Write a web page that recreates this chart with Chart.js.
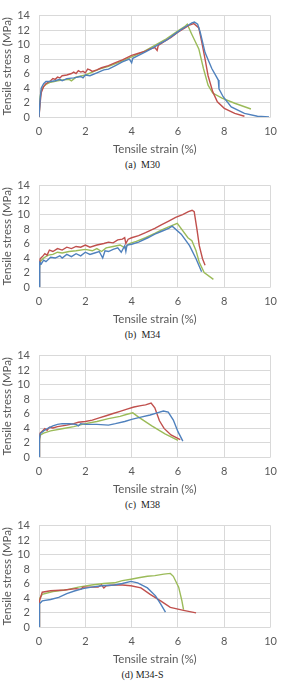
<!DOCTYPE html>
<html>
<head>
<meta charset="utf-8">
<script src="https://cdn.jsdelivr.net/npm/chart.js@4/dist/chart.umd.min.js"></script>
<style>
  html, body { margin: 0; padding: 0; background: #fff; }
  body { width: 285px; height: 681px; position: relative; overflow: hidden; }
  .panel { position: absolute; left: 0; width: 285px; height: 170px; }
  .panel canvas { position: absolute; left: 0; top: 0; }
  .cap { position: absolute; left: 0; width: 285px; text-align: center; top: 159px;
         font-family: "Liberation Serif", "DejaVu Serif", serif; font-size: 10px; font-weight: normal; color: #222; line-height: 12px; }
</style>
</head>
<body>
<script>
// ---------- data (strain %, stress MPa) ----------
const xTicks = [0, 2, 4, 6, 8, 10];
const yTicks = [0, 2, 4, 6, 8, 10, 12, 14];
const captions = ["(a)\u00a0\u00a0M30", "(b)\u00a0\u00a0M34", "(c)\u00a0\u00a0M38", "(d)\u00a0M34-S"];
const xTitle = "Tensile strain (%)";
const yTitle = "Tensile stress (MPa)";

const m30Blue = [[0,0],[0.05,2.5],[0.1,4.0],[0.2,4.6],[0.3,4.9],[0.5,4.9],[0.7,5.0],[0.9,5.2],[1.0,5.0],[1.2,5.3],[1.5,5.4],[1.8,5.6],[1.9,5.4],[2.0,5.8],[2.2,5.7],[2.5,6.1],[2.8,6.5],[3.0,6.6],[3.3,7.1],[3.6,7.6],[3.9,8.0],[4.0,7.5],[4.05,8.1],[4.3,8.5],[4.6,9.0],[4.9,9.5],[5.2,10.1],[5.5,10.6],[5.8,11.3],[6.1,12.0],[6.4,12.6],[6.6,13.0],[6.71,13.1],[6.85,12.8],[6.96,11.7],[7.17,8.9],[7.46,6.7],[7.67,5.5],[7.74,5.1],[7.77,3.9],[7.95,2.8],[8.3,1.4],[8.87,0.5],[9.43,0.1],[9.93,0]];
const m30Red = [[0,0],[0.05,2.0],[0.1,3.4],[0.2,4.2],[0.3,4.6],[0.4,4.8],[0.5,5.0],[0.6,5.3],[0.7,5.2],[0.8,5.5],[0.9,5.4],[1.0,5.7],[1.2,5.8],[1.4,6.0],[1.5,6.2],[1.6,6.0],[1.7,6.4],[1.8,6.2],[1.9,6.3],[2.0,6.1],[2.1,6.6],[2.2,6.5],[2.3,6.3],[2.5,6.5],[2.7,6.8],[3.0,7.1],[3.3,7.5],[3.6,7.9],[4.0,8.5],[4.3,8.8],[4.6,9.1],[4.8,9.4],[5.0,9.6],[5.1,9.2],[5.15,9.9],[5.4,10.4],[5.7,11.0],[6.0,11.7],[6.3,12.3],[6.5,12.7],[6.68,12.9],[6.9,12.3],[7.03,10.3],[7.17,8.0],[7.3,5.7],[7.5,3.5],[7.7,2.1],[8.0,1.2],[8.45,0.5],[8.87,0.1]];
const m30Green = [[0,0],[0.05,2.8],[0.1,3.7],[0.2,4.2],[0.3,4.5],[0.5,4.8],[0.8,5.0],[1.0,5.1],[1.3,5.2],[1.4,5.0],[1.6,5.5],[2.0,5.8],[2.3,6.2],[2.6,6.6],[3.0,7.0],[3.5,7.6],[4.0,8.3],[4.5,9.0],[5.0,9.9],[5.5,10.8],[6.0,11.9],[6.3,12.5],[6.4,12.8],[6.6,11.4],[6.9,9.4],[7.1,6.7],[7.3,4.4],[7.5,3.3],[7.9,2.6],[8.45,1.9],[9.15,1.1]];

const m34Blue = [[0,0],[0.02,2.0],[0.04,3.4],[0.1,3.2],[0.2,3.7],[0.3,3.5],[0.5,4.1],[0.7,4.0],[0.9,4.3],[1.0,4.0],[1.2,4.5],[1.4,4.2],[1.6,4.6],[1.8,4.3],[2.0,4.8],[2.2,4.5],[2.4,4.7],[2.6,4.9],[2.75,4.0],[2.85,5.0],[3.0,4.9],[3.2,5.2],[3.4,5.4],[3.55,4.8],[3.7,5.7],[3.75,4.9],[3.8,5.8],[4.0,5.9],[4.3,6.2],[4.7,6.8],[5.0,7.3],[5.3,7.7],[5.6,8.1],[5.75,8.4],[6.14,7.3],[6.5,5.7],[6.78,3.9],[7.02,2.1]];
const m34Red = [[0,0],[0.02,3.0],[0.05,3.9],[0.15,4.2],[0.25,4.6],[0.35,4.4],[0.45,5.1],[0.6,4.9],[0.8,5.3],[1.0,5.1],[1.2,5.5],[1.4,5.3],[1.6,5.6],[1.8,5.5],[2.0,5.8],[2.2,5.5],[2.5,5.8],[2.8,6.0],[3.0,6.2],[3.2,6.1],[3.4,6.5],[3.6,6.6],[3.7,6.8],[3.75,6.0],[3.85,6.6],[4.0,6.8],[4.3,7.1],[4.6,7.5],[5.0,8.1],[5.3,8.6],[5.6,9.1],[5.9,9.6],[6.2,10.0],[6.45,10.4],[6.61,10.6],[6.7,10.4],[6.82,7.95],[6.92,5.7],[7.06,3.9],[7.17,3.0]];
const m34Green = [[0,0],[0.02,2.5],[0.05,3.5],[0.2,4.0],[0.4,4.4],[0.6,4.5],[0.8,4.8],[1.0,4.7],[1.3,4.9],[1.6,5.0],[2.0,5.2],[2.3,5.0],[2.5,5.3],[2.7,4.9],[2.9,5.4],[3.2,5.6],[3.5,5.8],[3.7,5.4],[3.9,6.0],[4.2,6.3],[4.6,6.8],[5.0,7.4],[5.3,7.9],[5.6,8.3],[5.97,8.8],[6.43,6.8],[6.6,6.4],[6.78,5.0],[6.92,3.4],[7.13,2.0],[7.53,1.05]];

const m38Blue = [[0,0],[0.02,2.5],[0.05,3.2],[0.2,3.6],[0.4,4.0],[0.6,4.3],[0.8,4.5],[1.0,4.6],[1.3,4.6],[1.6,4.5],[1.7,4.3],[1.8,4.6],[2.0,4.5],[2.5,4.5],[3.0,4.4],[3.3,4.6],[3.7,4.9],[4.0,5.2],[4.4,5.5],[4.8,5.8],[5.1,6.1],[5.37,6.35],[5.58,6.2],[5.8,5.1],[6.0,3.5],[6.21,2.2]];
const m38Red = [[0,0],[0.02,2.5],[0.05,3.3],[0.15,3.6],[0.25,3.9],[0.35,3.7],[0.45,4.1],[0.6,4.0],[0.8,4.2],[1.0,4.3],[1.2,4.4],[1.5,4.6],[1.7,4.8],[2.0,4.9],[2.3,5.1],[2.6,5.4],[2.9,5.7],[3.2,6.0],[3.5,6.3],[3.8,6.6],[4.1,6.9],[4.4,7.1],[4.6,7.2],[4.84,7.45],[5.0,6.8],[5.2,5.0],[5.4,3.95],[5.7,3.05],[6.1,2.4]];
const m38Green = [[0,0],[0.02,2.2],[0.05,3.0],[0.2,3.3],[0.5,3.6],[1.0,3.9],[1.5,4.2],[2.0,4.6],[2.5,4.9],[3.0,5.3],[3.5,5.6],[3.8,5.9],[4.05,6.1],[4.3,5.5],[4.87,4.3],[5.44,3.2],[6.0,2.3]];

const m34sBlue = [[0,0],[0.02,3.2],[0.14,3.6],[0.5,3.8],[0.85,4.1],[1.2,4.6],[1.56,5.0],[1.9,5.3],[2.27,5.5],[2.7,5.7],[3.26,5.8],[3.6,6.0],[3.97,6.3],[4.26,6.1],[4.68,5.4],[5.03,4.3],[5.25,3.2],[5.46,2.05]];
const m34sRed = [[0,0],[0.02,3.6],[0.14,4.8],[0.5,5.0],[1.1,5.1],[1.6,5.3],[1.8,5.2],[1.9,5.5],[2.2,5.5],[2.55,5.5],[2.7,5.8],[2.8,5.4],[2.9,5.7],[3.26,5.8],[3.6,5.8],[3.97,5.7],[4.4,5.4],[4.8,4.5],[5.25,3.6],[5.67,2.7],[6.24,2.3],[6.78,1.95]];
const m34sGreen = [[0,0],[0.02,3.9],[0.14,4.5],[0.6,4.9],[1.13,5.1],[1.7,5.5],[2.27,5.8],[2.8,6.0],[3.26,6.1],[3.6,6.4],[3.97,6.6],[4.3,6.8],[4.68,7.0],[5.0,7.1],[5.39,7.3],[5.67,7.4],[5.8,7.0],[6.03,5.5],[6.17,3.6],[6.24,2.4]];

const panels = [
  [m30Blue, m30Red, m30Green],
  [m34Blue, m34Red, m34Green],
  [m38Blue, m38Red, m38Green],
  [m34sBlue, m34sRed, m34sGreen]
];
const seriesColors = ["#4F81BD", "#C0504D", "#9BBB59"];
const panelTops = [0, 170, 340, 510];

const tickFont = { family: "Lato, 'Open Sans', sans-serif", size: 11 };
const titleFont = { family: "Lato, 'Open Sans', sans-serif", size: 11.5 };
const grey = "#595959";

panels.forEach((sets, i) => {
  const div = document.createElement("div");
  div.className = "panel";
  div.style.top = panelTops[i] + "px";
  const cv = document.createElement("canvas");
  cv.width = 285; cv.height = 158;
  cv.style.width = "285px"; cv.style.height = "158px";
  div.appendChild(cv);
  const cap = document.createElement("div");
  cap.className = "cap";
  cap.textContent = captions[i];
  div.appendChild(cap);
  document.body.appendChild(div);

  new Chart(cv, {
    type: "scatter",
    data: {
      datasets: sets.map((pts, k) => ({
        data: pts.map(p => ({ x: p[0], y: p[1] })),
        showLine: true,
        borderColor: seriesColors[k],
        backgroundColor: seriesColors[k],
        borderWidth: 1.4,
        pointRadius: 0,
        tension: 0
      }))
    },
    options: {
      responsive: false,
      animation: false,
      devicePixelRatio: 1,
      layout: { padding: { top: 14, right: 10, left: 0, bottom: 0 } },
      plugins: { legend: { display: false }, tooltip: { enabled: false } },
      scales: {
        x: {
          type: "linear", min: 0, max: 10,
          afterBuildTicks: s => { s.ticks = xTicks.map(v => ({ value: v })); },
          afterFit: s => { s.height = 41; },
          grid: { color: "#d9d9d9", drawTicks: false, lineWidth: 1 },
          border: { display: false },
          ticks: { color: grey, font: tickFont, padding: 8, maxRotation: 0, autoSkip: false },
          title: { display: true, text: xTitle, color: grey, font: titleFont, padding: { top: 0, bottom: 2 } }
        },
        y: {
          type: "linear", min: 0, max: 14,
          afterBuildTicks: s => { s.ticks = yTicks.map(v => ({ value: v })); },
          afterFit: s => { s.width = 39; },
          grid: { color: "#d9d9d9", drawTicks: false, lineWidth: 1 },
          border: { display: false },
          ticks: { color: grey, font: tickFont, padding: 9, autoSkip: false },
          title: { display: true, text: yTitle, color: grey, font: titleFont, padding: { top: 0, bottom: 0 } }
        }
      }
    }
  });
});
</script>
</body>
</html>
